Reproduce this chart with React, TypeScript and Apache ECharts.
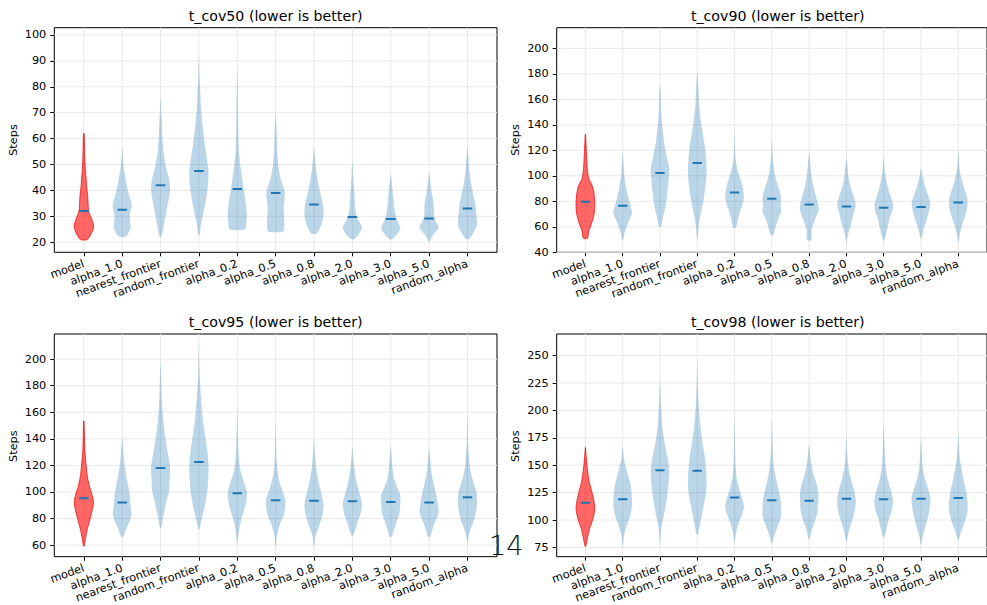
import React, { useEffect, useRef } from 'react';
import * as echarts from 'echarts';

const categories = ['model', 'alpha_1.0', 'nearest_frontier', 'random_frontier', 'alpha_0.2', 'alpha_0.5', 'alpha_0.8', 'alpha_2.0', 'alpha_3.0', 'alpha_5.0', 'random_alpha'];
const titles = ['t_cov50 (lower is better)', 't_cov90 (lower is better)', 't_cov95 (lower is better)', 't_cov98 (lower is better)'];

const cov50Ticks = [20, 30, 40, 50, 60, 70, 80, 90, 100];
const cov90Ticks = [40, 60, 80, 100, 120, 140, 160, 180, 200];
const cov95Ticks = [60, 80, 100, 120, 140, 160, 180, 200];
const cov98Ticks = [75, 100, 125, 150, 175, 200, 225, 250];

const cov50Medians = [32, 32.5, 42, 47.5, 40.5, 39, 34.6, 29.7, 29, 29.1, 33];
const cov90Medians = [79.7, 76.5, 102.3, 110, 87, 82, 77.5, 76, 75, 75.5, 79];
const cov95Medians = [95.3, 92, 118, 122.5, 99, 93.7, 93.3, 93, 92.5, 92, 96];
const cov98Medians = [115.7, 119, 145.5, 145, 120.5, 118, 117.5, 119.5, 119, 119.5, 120];

// violin outlines: [steps, relative half-width] from bottom to top
const cov50Shapes = [
  [[21, 0.35], [22.8, 0.7], [25.4, 1.0], [26.7, 1.0], [29.3, 0.78], [31.8, 0.52], [34.4, 0.45], [37, 0.42], [39.5, 0.35], [42, 0.28], [44.7, 0.24], [47.3, 0.17], [52.4, 0.1], [57.5, 0.07], [62, 0.03]],
  [[22.2, 0.35], [25.4, 0.87], [28, 0.83], [30.5, 0.8], [34.4, 1.0], [39.5, 0.62], [44.7, 0.35], [48.5, 0.17], [52.4, 0.07], [56, 0.02]],
  [[22.2, 0.1], [26.7, 0.35], [31.8, 0.6], [37, 0.87], [40.8, 1.0], [44.7, 0.87], [49.8, 0.52], [55, 0.31], [60, 0.2], [65.3, 0.14], [70.4, 0.07], [75.6, 0.02]],
  [[23, 0.08], [26.7, 0.2], [31.8, 0.5], [37, 0.76], [42, 0.94], [47.3, 1.0], [52.4, 0.83], [57.5, 0.62], [62.8, 0.45], [67.9, 0.31], [73, 0.2], [78.2, 0.14], [83.3, 0.07], [91, 0.01]],
  [[25, 0.8], [28, 0.94], [30.5, 1.0], [35.7, 0.87], [39.5, 0.7], [44.7, 0.5], [49.8, 0.31], [55, 0.17], [65.3, 0.1], [78.2, 0.05], [86, 0.01]],
  [[24.1, 0.76], [26.7, 0.9], [30, 0.87], [33, 0.83], [37, 0.94], [39.5, 0.95], [44.7, 0.52], [49.8, 0.28], [55, 0.17], [62.8, 0.1], [69.7, 0.02]],
  [[23.3, 0.25], [25.4, 0.62], [28, 0.87], [31.2, 1.0], [34.4, 0.94], [37, 0.8], [39.5, 0.62], [43.4, 0.42], [47.3, 0.24], [52.4, 0.1], [56.2, 0.02]],
  [[21.2, 0.17], [23.4, 0.7], [25.7, 1.0], [28, 0.7], [30, 0.45], [33, 0.31], [37, 0.24], [40.8, 0.17], [44.7, 0.1], [51, 0.02]],
  [[21.2, 0.17], [23.4, 0.7], [25.4, 1.0], [28, 0.73], [30.5, 0.5], [33.7, 0.35], [37, 0.28], [40.8, 0.17], [44.7, 0.07], [46, 0.02]],
  [[20.2, 0.03], [22.8, 0.42], [25.7, 1.0], [28, 0.7], [30, 0.52], [33, 0.49], [35.7, 0.45], [38.2, 0.31], [42, 0.17], [46.6, 0.02]],
  [[21.2, 0.17], [24.1, 0.7], [26.7, 1.0], [30.5, 0.94], [34.4, 0.83], [38.2, 0.62], [42, 0.42], [47.3, 0.21], [52.4, 0.1], [56.2, 0.02]],
];

const cov90Shapes = [
  [[51, 0.22], [56.2, 0.35], [61.4, 0.6], [66.7, 0.83], [71.8, 0.97], [79.7, 1.0], [87.5, 0.9], [92.8, 0.7], [98, 0.35], [105.8, 0.2], [113.7, 0.14], [124.1, 0.07], [132.5, 0.02]],
  [[49, 0.03], [56.2, 0.24], [64, 0.62], [70.5, 1.0], [75.8, 0.87], [82.3, 0.62], [90.1, 0.38], [98, 0.21], [108.4, 0.1], [118.9, 0.01]],
  [[60.1, 0.1], [66.7, 0.31], [77.1, 0.62], [87.5, 0.8], [98, 0.94], [105.8, 1.0], [113.7, 0.76], [124.1, 0.49], [134.6, 0.31], [145, 0.17], [155.5, 0.1], [166, 0.07], [171.2, 0.01]],
  [[49.7, 0.02], [61.4, 0.17], [71.8, 0.42], [82.3, 0.7], [92.8, 0.9], [103.2, 1.0], [113.7, 0.94], [124.1, 0.8], [134.6, 0.56], [145, 0.35], [155.5, 0.21], [166, 0.14], [181.6, 0.01]],
  [[59.3, 0.14], [66.7, 0.38], [74.5, 0.7], [82.3, 1.0], [90.1, 0.9], [98, 0.6], [105.8, 0.28], [113.7, 0.1], [134.6, 0.01]],
  [[53.6, 0.14], [61.4, 0.45], [66.7, 0.7], [71.8, 1.0], [77.1, 0.94], [82.3, 1.0], [87.5, 0.87], [95.4, 0.52], [103.2, 0.28], [113.7, 0.1], [128, 0.01]],
  [[49.7, 0.25], [56.2, 0.25], [61.4, 0.42], [68, 0.76], [73.1, 1.0], [78.4, 0.94], [84.9, 0.7], [92.8, 0.42], [100.6, 0.24], [108.4, 0.14], [118.9, 0.01]],
  [[48.4, 0.02], [56.2, 0.24], [64, 0.56], [70.5, 0.76], [77.1, 1.0], [83.6, 0.8], [90.1, 0.49], [98, 0.24], [108.4, 0.1], [113.7, 0.01]],
  [[49, 0.03], [55, 0.28], [61.4, 0.49], [66.7, 0.62], [71.8, 0.9], [77.1, 1.0], [83.6, 0.76], [90.1, 0.49], [98, 0.24], [105.8, 0.1], [115, 0.01]],
  [[51, 0.05], [58.8, 0.31], [66.7, 0.66], [73.1, 0.9], [78.4, 1.0], [84.9, 0.76], [91.5, 0.45], [98, 0.21], [105.8, 0.01]],
  [[47.8, 0.02], [56.2, 0.21], [64, 0.52], [71.8, 0.87], [78.4, 1.0], [84.9, 0.87], [92.8, 0.52], [100.6, 0.24], [108.4, 0.1], [119.4, 0.01]],
];

const cov95Shapes = [
  [[59.2, 0.03], [65, 0.17], [72.5, 0.38], [80, 0.66], [87.4, 0.9], [92.9, 1.0], [98.6, 0.83], [104.9, 0.56], [112.3, 0.35], [122.3, 0.21], [132.2, 0.1], [153.4, 0.02]],
  [[66.2, 0.1], [72.5, 0.45], [78.7, 0.8], [83.7, 0.97], [89.9, 0.87], [97.4, 0.8], [104.9, 0.62], [112.3, 0.42], [122.3, 0.21], [132.2, 0.1], [141.7, 0.01]],
  [[73, 0.07], [82.4, 0.31], [92.4, 0.59], [99.9, 0.87], [109.9, 0.94], [117.3, 1.0], [124.8, 0.87], [134.7, 0.62], [144.7, 0.42], [154.6, 0.28], [164.6, 0.17], [177.1, 0.1], [197.1, 0.01]],
  [[72, 0.05], [80, 0.31], [89.9, 0.62], [99.9, 0.87], [109.9, 0.97], [119.8, 1.0], [129.7, 0.9], [139.7, 0.7], [149.7, 0.49], [159.6, 0.35], [172.1, 0.21], [184.6, 0.1], [199.6, 0.03], [212, 0.01]],
  [[62.5, 0.03], [72.5, 0.21], [80, 0.45], [87.4, 0.76], [94.9, 0.97], [99.9, 1.0], [107.4, 0.7], [114.8, 0.38], [122.3, 0.21], [134.7, 0.1], [160.8, 0.01]],
  [[59, 0.02], [67.5, 0.14], [75, 0.42], [82.4, 0.83], [88.7, 1.0], [94.9, 0.97], [99.9, 0.76], [107.4, 0.42], [114.8, 0.21], [124.8, 0.1], [149.7, 0.01]],
  [[59, 0.02], [67.5, 0.17], [75, 0.56], [82.4, 0.87], [89.9, 1.0], [97.4, 0.83], [104.9, 0.56], [112.3, 0.35], [122.3, 0.17], [139.7, 0.01]],
  [[67.5, 0.1], [72.5, 0.35], [78.7, 0.62], [84.9, 0.9], [91.2, 1.0], [97.4, 0.8], [104.9, 0.52], [112.3, 0.31], [122.3, 0.14], [133.5, 0.01]],
  [[66.2, 0.1], [72.5, 0.38], [78.7, 0.66], [83.7, 0.9], [88.7, 0.97], [97.4, 1.0], [103.6, 0.66], [109.9, 0.35], [119.8, 0.17], [134.7, 0.01]],
  [[66.2, 0.1], [72.5, 0.38], [78.7, 0.7], [84.9, 1.0], [91.2, 0.9], [97.4, 0.76], [104.9, 0.52], [114.8, 0.24], [122.3, 0.14], [133.5, 0.01]],
  [[62.5, 0.03], [70, 0.24], [77.5, 0.62], [84.9, 0.9], [92.4, 1.0], [99.9, 0.94], [107.4, 0.62], [114.8, 0.35], [124.8, 0.17], [137.2, 0.07], [157.1, 0.01]],
];

const cov98Shapes = [
  [[76, 0.03], [83.2, 0.21], [92.2, 0.45], [99.8, 0.76], [107.3, 0.97], [111.9, 1.0], [117.9, 0.9], [125.5, 0.7], [134.5, 0.42], [146.6, 0.21], [155.6, 0.1], [166.2, 0.01]],
  [[76.1, 0.02], [86.1, 0.14], [95.2, 0.45], [104.3, 0.83], [113.4, 1.0], [122.4, 0.97], [131.5, 0.87], [140.5, 0.59], [149.6, 0.31], [155.6, 0.14], [168.3, 0.01]],
  [[77.1, 0.01], [92.2, 0.14], [104.3, 0.42], [119.4, 0.73], [131.5, 0.9], [143.5, 1.0], [152.6, 0.9], [164.7, 0.62], [176.7, 0.38], [188.8, 0.21], [200.9, 0.14], [213, 0.07], [228, 0.01]],
  [[86.7, 0.07], [98.3, 0.35], [110.3, 0.62], [122.4, 0.9], [134.5, 1.0], [146.6, 0.94], [158.6, 0.8], [170.8, 0.56], [182.8, 0.38], [194.9, 0.24], [207, 0.14], [222, 0.07], [243.2, 0.01]],
  [[80.2, 0.03], [89.2, 0.17], [98.3, 0.49], [105.8, 0.83], [111.9, 1.0], [119.4, 0.83], [128.5, 0.49], [137.5, 0.24], [152.6, 0.1], [193.4, 0.01]],
  [[78.6, 0.03], [86.1, 0.28], [95.2, 0.66], [102.8, 0.97], [111.9, 1.0], [120.9, 0.9], [130, 0.66], [140.5, 0.38], [152.6, 0.17], [170.8, 0.07], [191.8, 0.01]],
  [[82.6, 0.05], [89.2, 0.24], [96.8, 0.52], [105.8, 0.87], [116.4, 0.97], [124, 1.0], [133, 0.8], [142, 0.45], [152.6, 0.21], [164.7, 0.07], [167.7, 0.01]],
  [[80.2, 0.03], [89.2, 0.24], [98.3, 0.56], [107.3, 0.87], [117.9, 1.0], [127, 0.83], [136, 0.52], [146.6, 0.24], [158.6, 0.1], [175.3, 0.01]],
  [[84.7, 0.07], [92.2, 0.31], [99.8, 0.52], [107.3, 0.83], [116.4, 1.0], [124, 0.87], [133, 0.56], [143.5, 0.28], [155.6, 0.14], [185.9, 0.01]],
  [[77.1, 0.02], [86.1, 0.21], [95.2, 0.52], [104.3, 0.8], [113.4, 0.97], [120.9, 1.0], [130, 0.7], [139, 0.38], [149.6, 0.17], [164.7, 0.07], [175.3, 0.01]],
  [[81.7, 0.03], [89.2, 0.31], [98.3, 0.7], [107.3, 0.97], [114.9, 1.0], [124, 0.9], [134.5, 0.62], [146.6, 0.35], [155.6, 0.17], [176.8, 0.01]],
];

const yRanges = [[16.1, 102.8], [40, 216.2], [51.3, 218.9], [66.6, 269.7]];

const FONT = 'DejaVu Sans';
const HALF = 0.25;
const GRID_COLOR = '#e9e9e9';

function violinRenderer(shapes: number[][][], medians: number[]) {
  return (params: any, api: any) => {
    const i = params.dataIndex;
    const x = api.value(0);
    const prof = shapes[i];
    const right = prof.map(([v, w]) => api.coord([x + w * HALF, v]));
    const left = prof.slice().reverse().map(([v, w]) => api.coord([x - w * HALF, v]));
    const pts = right.concat(left);
    const m1 = api.coord([x - HALF / 2, medians[i]]);
    const m2 = api.coord([x + HALF / 2, medians[i]]);
    const red = i === 0;
    return {
      type: 'group',
      children: [
        {
          type: 'polygon',
          shape: { points: pts, smooth: 0.25 },
          style: red
            ? { fill: 'rgba(255,0,0,0.6)', stroke: 'rgba(230,0,0,0.7)', lineWidth: 1 }
            : { fill: 'rgba(31,119,180,0.3)', stroke: 'none' },
        },
        {
          type: 'line',
          shape: { x1: m1[0], y1: m1[1], x2: m2[0], y2: m2[1] },
          style: { stroke: '#1f77b4', lineWidth: 2 },
        },
      ],
    };
  };
}

function vGridRender(params: any, api: any) {
  const cs = params.coordSys;
  const p = api.coord([api.value(0), api.value(1)]);
  return { type: 'line', shape: { x1: p[0], y1: cs.y, x2: p[0], y2: cs.y + cs.height }, style: { stroke: GRID_COLOR, lineWidth: 1 } };
}
function hGridRender(params: any, api: any) {
  const cs = params.coordSys;
  const p = api.coord([api.value(0), api.value(1)]);
  return { type: 'line', shape: { x1: cs.x, y1: p[1], x2: cs.x + cs.width, y2: p[1] }, style: { stroke: GRID_COLOR, lineWidth: 1 } };
}

export default function App() {
  const ref = useRef<HTMLDivElement>(null);
  useEffect(() => {
    if (!ref.current) return;
    const chart = echarts.init(ref.current, undefined, { renderer: 'svg' });
    const panels = [
      { ticks: cov50Ticks, medians: cov50Medians, shapes: cov50Shapes },
      { ticks: cov90Ticks, medians: cov90Medians, shapes: cov90Shapes },
      { ticks: cov95Ticks, medians: cov95Medians, shapes: cov95Shapes },
      { ticks: cov98Ticks, medians: cov98Medians, shapes: cov98Shapes },
    ];
    const grids = [
      { left: 54.3, top: 27.7, width: 442.7, height: 224.6 },
      { left: 556.7, top: 27.7, width: 442.1, height: 224.6 },
      { left: 54.3, top: 334, width: 442.7, height: 224.3 },
      { left: 556.7, top: 334, width: 442.1, height: 224.3 },
    ];
    const xs = categories.map((_, i) => i + 1);
    const xAxis: any[] = [];
    const yAxis: any[] = [];
    const series: any[] = [];
    const graphic: any[] = [];
    panels.forEach((p, k) => {
      xAxis.push({
        type: 'value', gridIndex: k, min: 0.23, max: 11.77,
        axisLine: { show: false },
        axisTick: { show: true, length: 4, customValues: xs, lineStyle: { color: '#000', width: 1 } },
        axisLabel: {
          customValues: xs, rotate: 20, margin: 11, fontFamily: FONT, fontSize: 11.3, color: '#000',
          formatter: (v: number) => categories[Math.round(v) - 1] || '',
        },
        splitLine: { show: false },
      });
      yAxis.push({
        type: 'value', gridIndex: k, min: yRanges[k][0], max: yRanges[k][1],
        axisLine: { show: false },
        axisTick: { show: true, length: 4, customValues: p.ticks, lineStyle: { color: '#000', width: 1 } },
        axisLabel: { customValues: p.ticks, margin: 8, fontFamily: FONT, fontSize: 11.3, color: '#000' },
        splitLine: { show: false },
      });
      series.push({
        type: 'custom', xAxisIndex: k, yAxisIndex: k, z: 1, silent: true,
        data: xs.map((x) => [x, p.ticks[0]]), encode: { x: 0, y: 1 },
        renderItem: vGridRender,
      });
      series.push({
        type: 'custom', xAxisIndex: k, yAxisIndex: k, z: 1, silent: true,
        data: p.ticks.map((t) => [1, t]), encode: { x: 0, y: 1 },
        renderItem: hGridRender,
      });
      series.push({
        type: 'custom', xAxisIndex: k, yAxisIndex: k, z: 2, clip: true, silent: true,
        data: p.medians.map((m, i) => [i + 1, m]), encode: { x: 0, y: 1 },
        renderItem: violinRenderer(p.shapes, p.medians),
      });
      const g = grids[k];
      graphic.push({
        type: 'text', x: g.left + g.width / 2, y: g.top - 12,
        style: { text: titles[k], font: `14.2px "${FONT}"`, fill: '#000', textAlign: 'center', textVerticalAlign: 'middle' },
      });
      graphic.push({
        type: 'text', x: k % 2 === 0 ? 13 : 515.5, y: g.top + g.height / 2, rotation: Math.PI / 2,
        style: { text: 'Steps', font: `11.3px "${FONT}"`, fill: '#000', textAlign: 'center', textVerticalAlign: 'middle' },
      });
    });
    graphic.push({
      type: 'text', x: 489, y: 545,
      style: { text: '14', font: `300 27px "${FONT}"`, fill: '#111', textAlign: 'left', textVerticalAlign: 'middle' },
    });
    chart.setOption({
      animation: false,
      backgroundColor: '#fff',
      grid: grids.map((g) => ({ ...g, show: true, borderColor: '#000', borderWidth: 1, backgroundColor: 'transparent', containLabel: false })),
      xAxis, yAxis, series, graphic,
    });
    return () => chart.dispose();
  }, []);
  return <div ref={ref} style={{ width: 987, height: 605, position: 'absolute', left: 0, top: 0 }} />;
}
